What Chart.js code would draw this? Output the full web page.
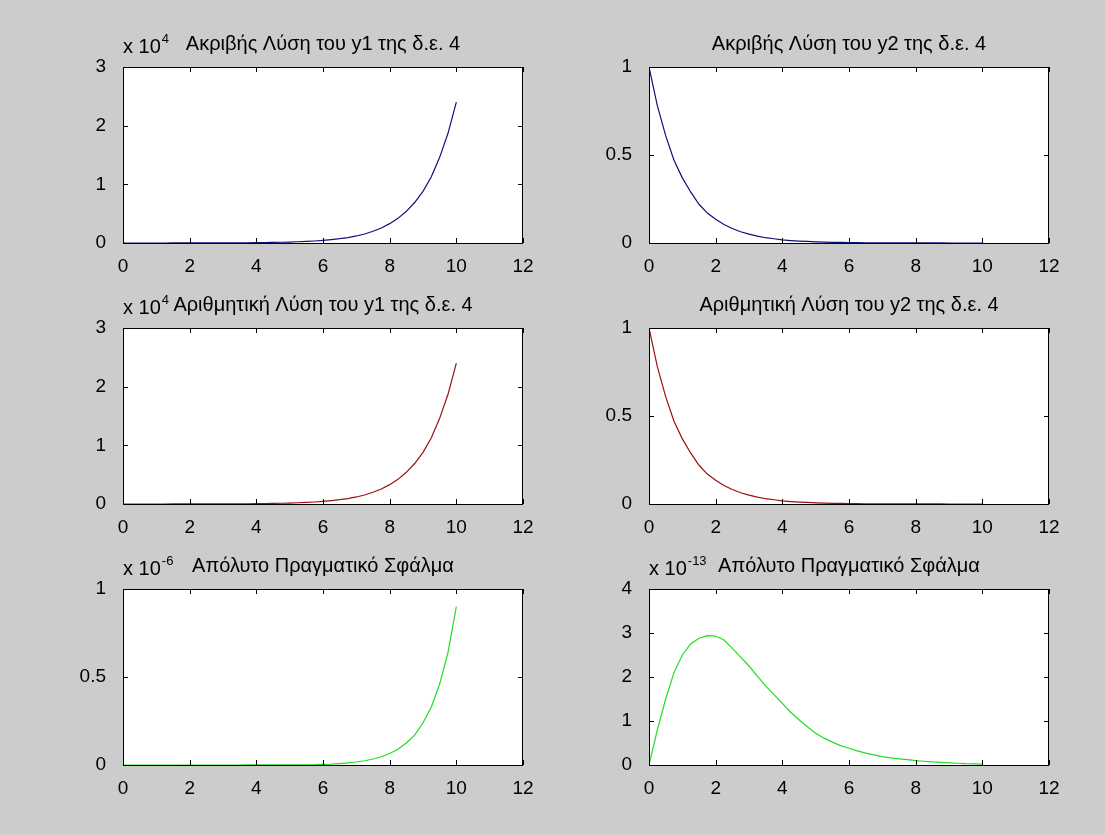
<!DOCTYPE html>
<html>
<head>
<meta charset="utf-8">
<script src="https://cdn.jsdelivr.net/npm/chart.js@4.4.0/dist/chart.umd.min.js"></script>
<style>
  html, body { margin: 0; padding: 0; background: #cccccc; }
  body { width: 1105px; height: 835px; position: relative; overflow: hidden; }
  canvas { position: absolute; }
</style>
</head>
<body>
<canvas id="c1"></canvas>
<canvas id="c2"></canvas>
<canvas id="c3"></canvas>
<canvas id="c4"></canvas>
<canvas id="c5"></canvas>
<canvas id="c6"></canvas>
<script>
// x values (step h = 0.25)
const xs = [0, 0.25, 0.5, 0.75, 1, 1.25, 1.5, 1.75, 2, 2.25, 2.5, 2.75, 3, 3.25, 3.5, 3.75, 4, 4.25, 4.5, 4.75,
            5, 5.25, 5.5, 5.75, 6, 6.25, 6.5, 6.75, 7, 7.25, 7.5, 7.75, 8, 8.25, 8.5, 8.75, 9, 9.25, 9.5, 9.75, 10];

// y1 exact and numeric, in units of 10^4
const y1Exact = [0.0001, 0.00014, 0.00018, 0.00023, 0.0003, 0.00038, 0.00049, 0.00063, 0.0008, 0.001,
                 0.0013, 0.0017, 0.0022, 0.0028, 0.0036, 0.0046, 0.006, 0.0077, 0.0099, 0.0126,
                 0.016, 0.021, 0.027, 0.034, 0.044, 0.057, 0.073, 0.093, 0.12, 0.154,
                 0.2, 0.256, 0.33, 0.42, 0.54, 0.69, 0.88, 1.13, 1.46, 1.87, 2.4];
const y1Numeric = [0.0001, 0.00014, 0.00018, 0.00023, 0.0003, 0.00038, 0.00049, 0.00063, 0.0008, 0.001,
                   0.0013, 0.0017, 0.0022, 0.0028, 0.0036, 0.0046, 0.006, 0.0077, 0.0099, 0.0126,
                   0.016, 0.021, 0.027, 0.034, 0.044, 0.057, 0.073, 0.093, 0.12, 0.154,
                   0.2, 0.256, 0.33, 0.42, 0.54, 0.69, 0.88, 1.13, 1.46, 1.87, 2.4];

// y2 exact and numeric
const y2Exact = [1, 0.78, 0.61, 0.47, 0.37, 0.29, 0.22, 0.17, 0.135, 0.105,
                 0.082, 0.064, 0.05, 0.039, 0.03, 0.024, 0.018, 0.014, 0.011, 0.0087,
                 0.0067, 0.0052, 0.0041, 0.0032, 0.0025, 0.0019, 0.0015, 0.0012, 0.0009, 0.0007,
                 0.00055, 0.00043, 0.00034, 0.00026, 0.0002, 0.00016, 0.00012, 0.0001, 0.00008, 0.00006, 0.00005];
const y2Numeric = [1, 0.78, 0.61, 0.47, 0.37, 0.29, 0.22, 0.17, 0.135, 0.105,
                   0.082, 0.064, 0.05, 0.039, 0.03, 0.024, 0.018, 0.014, 0.011, 0.0087,
                   0.0067, 0.0052, 0.0041, 0.0032, 0.0025, 0.0019, 0.0015, 0.0012, 0.0009, 0.0007,
                   0.00055, 0.00043, 0.00034, 0.00026, 0.0002, 0.00016, 0.00012, 0.0001, 0.00008, 0.00006, 0.00005];

// absolute errors: y1 in units of 10^-6, y2 in units of 10^-13
const err1 = [0, 0, 0, 0, 0, 0, 0, 0, 0, 0, 0, 0, 0,
              0.0001, 0.0001, 0.0002, 0.0002, 0.0003, 0.0004, 0.0006, 0.0008, 0.001, 0.0013, 0.0018,
              0.004, 0.005, 0.008, 0.012, 0.017, 0.024, 0.034, 0.047, 0.065, 0.09,
              0.125, 0.17, 0.24, 0.33, 0.46, 0.64, 0.9];
const err2 = [0, 0.8, 1.5, 2.1, 2.5, 2.75, 2.88, 2.94, 2.93, 2.84,
              2.65, 2.45, 2.25, 2.02, 1.8, 1.6, 1.4, 1.2, 1.03, 0.87,
              0.72, 0.61, 0.52, 0.44, 0.38, 0.32, 0.27, 0.23, 0.19, 0.16,
              0.14, 0.12, 0.1, 0.085, 0.07, 0.06, 0.05, 0.04, 0.03, 0.025, 0.02];

const xTicks = [0, 2, 4, 6, 8, 10, 12];

const FONT = '"Liberation Sans", Arial, sans-serif';
const TICK_SIZE = 19;
const TITLE_SIZE = 20;

// box, inward ticks, title and exponent like a matlab axes
const matlabAxes = {
  id: 'matlabAxes',
  beforeDraw(chart) {
    const { ctx, chartArea: a } = chart;
    ctx.save();
    ctx.fillStyle = '#ffffff';
    ctx.fillRect(a.left, a.top, a.right - a.left, a.bottom - a.top);
    ctx.restore();
  },
  afterDraw(chart, args, opts) {
    const { ctx, chartArea: a, scales } = chart;
    const tl = 5;
    ctx.save();
    ctx.strokeStyle = '#000000';
    ctx.lineWidth = 1;
    ctx.beginPath();
    scales.x.ticks.forEach(t => {
      const px = Math.round(scales.x.getPixelForValue(t.value)) + 0.5;
      ctx.moveTo(px, a.bottom); ctx.lineTo(px, a.bottom - tl);
      ctx.moveTo(px, a.top); ctx.lineTo(px, a.top + tl);
    });
    scales.y.ticks.forEach(t => {
      const py = Math.round(scales.y.getPixelForValue(t.value)) + 0.5;
      ctx.moveTo(a.left, py); ctx.lineTo(a.left + tl, py);
      ctx.moveTo(a.right, py); ctx.lineTo(a.right - tl, py);
    });
    ctx.stroke();
    ctx.strokeRect(Math.round(a.left) + 0.5, Math.round(a.top) + 0.5,
                   Math.round(a.right - a.left) - 1, Math.round(a.bottom - a.top));

    ctx.fillStyle = '#000000';
    ctx.textBaseline = 'alphabetic';
    ctx.font = TITLE_SIZE + 'px ' + FONT;
    ctx.textAlign = 'center';
    ctx.fillText(opts.title, (a.left + a.right) / 2, a.top - 17);

    if (opts.exp) {
      ctx.textAlign = 'left';
      ctx.font = TITLE_SIZE + 'px ' + FONT;
      const base = 'x 10';
      ctx.fillText(base, a.left, a.top - 14);
      const w = ctx.measureText(base).width;
      ctx.font = '13px ' + FONT;
      ctx.fillText(opts.exp, a.left + w + 1, a.top - 24);
    }
    ctx.restore();
  }
};

function makePlot(id, left, top, ys, color, yMax, yStep, title, exp) {
  const padL = 55, padT = 50, padR = 20, padB = 35;
  const w = 400, h = 176;
  const cv = document.getElementById(id);
  cv.width = w + padL + padR;
  cv.height = h + padT + padB;
  cv.style.left = (left - padL) + 'px';
  cv.style.top = (top - padT) + 'px';

  return new Chart(cv, {
    type: 'line',
    data: {
      datasets: [{
        data: xs.map((x, i) => ({ x: x, y: ys[i] })),
        borderColor: color,
        borderWidth: 1.2,
        pointRadius: 0,
        tension: 0,
        fill: false
      }]
    },
    options: {
      responsive: false,
      animation: false,
      events: [],
      layout: { padding: { left: 0, top: padT, right: padR, bottom: 0 } },
      plugins: {
        legend: { display: false },
        tooltip: { enabled: false },
        matlabAxes: { title: title, exp: exp }
      },
      scales: {
        x: {
          type: 'linear',
          min: 0, max: 12,
          afterBuildTicks: s => { s.ticks = xTicks.map(v => ({ value: v })); },
          ticks: { color: '#000', font: { family: FONT, size: TICK_SIZE }, padding: 4, maxRotation: 0,
                   callback: v => String(v) },
          grid: { display: false },
          border: { display: false },
          afterFit: s => { s.height = padB; }
        },
        y: {
          type: 'linear',
          min: 0, max: yMax,
          ticks: { stepSize: yStep, color: '#000', font: { family: FONT, size: TICK_SIZE }, padding: 9,
                   callback: v => String(v) },
          grid: { display: false },
          border: { display: false },
          afterFit: s => { s.width = padL; }
        }
      }
    },
    plugins: [matlabAxes]
  });
}

const leftX = 123, rightX = 649;
const rowY = [67, 328, 589];

makePlot('c1', leftX, rowY[0], y1Exact, '#10107a', 3, 1, 'Ακριβής Λύση του y1 της δ.ε. 4', '4');
makePlot('c2', rightX, rowY[0], y2Exact, '#10107a', 1, 0.5, 'Ακριβής Λύση του y2 της δ.ε. 4', null);
makePlot('c3', leftX, rowY[1], y1Numeric, '#9a1010', 3, 1, 'Αριθμητική Λύση του y1 της δ.ε. 4', '4');
makePlot('c4', rightX, rowY[1], y2Numeric, '#9a1010', 1, 0.5, 'Αριθμητική Λύση του y2 της δ.ε. 4', null);
makePlot('c5', leftX, rowY[2], err1, '#22dd22', 1, 0.5, 'Απόλυτο Πραγματικό Σφάλμα', '-6');
makePlot('c6', rightX, rowY[2], err2, '#22dd22', 4, 1, 'Απόλυτο Πραγματικό Σφάλμα', '-13');
</script>
</body>
</html>
